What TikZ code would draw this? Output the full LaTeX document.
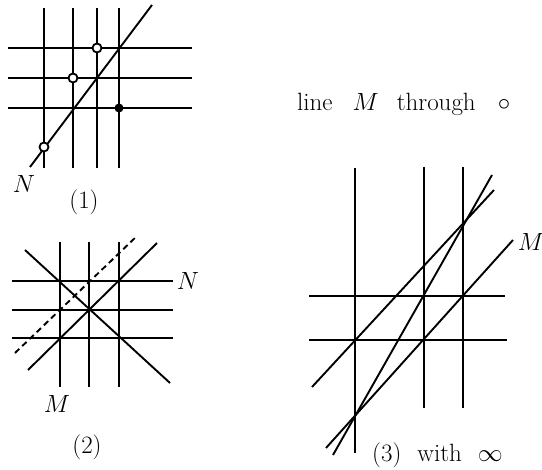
\documentclass[tikz,border=0pt]{standalone}
\begin{document}
\begin{tikzpicture}[x=1pt,y=-1pt,
  ln/.style={line width=1.9pt},
  dln/.style={line width=1.9pt,dash pattern=on 6pt off 4pt},
  opendot/.style={circle,draw,line width=1.8pt,fill=white,inner sep=0pt,minimum size=9pt},
  fulldot/.style={circle,fill,inner sep=0pt,minimum size=9pt},
  lbl/.style={font=\fontsize{25}{30}\selectfont,inner sep=0pt,anchor=base}]
\useasboundingbox (0,0) rectangle (542,470);
% ---------- figure (1)
\foreach \x [count=\i] in {44,73,97,119}{
  \coordinate (av\i t) at (\x,8); \coordinate (av\i b) at (\x,168);
  \draw[ln] (av\i t) -- (av\i b);}
\foreach \y [count=\i] in {48,78,108}{
  \coordinate (ah\i l) at (8,\y); \coordinate (ah\i r) at (192,\y);
  \draw[ln] (ah\i l) -- (ah\i r);}
\coordinate (aN1) at (30,167); \coordinate (aN2) at (152,5);
\draw[ln] (aN1) -- (aN2);
\node[opendot] (c1) at (97,48) {};
\node[opendot] (c2) at (73,78) {};
\node[opendot] (c3) at (44,147) {};
\node[fulldot] (d1) at (119,108) {};
\node[lbl] (lN1) at (24,193) {$N$};
\node[lbl] (l1) at (84,209) {(1)};
% ---------- figure (2)
\foreach \x [count=\i] in {60,89,119}{
  \coordinate (bv\i t) at (\x,242); \coordinate (bv\i b) at (\x,387);
  \draw[ln] (bv\i t) -- (bv\i b);}
\foreach \y [count=\i] in {281,310,338}{
  \coordinate (bh\i l) at (12,\y); \coordinate (bh\i r) at (173,\y);
  \draw[ln] (bh\i l) -- (bh\i r);}
\coordinate (bM1) at (28,370); \coordinate (bM2) at (157,243);
\draw[ln] (bM1) -- (bM2);
\coordinate (bA1) at (25,250); \coordinate (bA2) at (170,383);
\draw[ln] (bA1) -- (bA2);
\coordinate (bD1) at (15,353); \coordinate (bD2) at (137,236);
\draw[dln] (bD1) -- (bD2);
\node[lbl] (lN2) at (188,290) {$N$};
\node[lbl] (lM2) at (57,413) {$M$};
\node[lbl] (l2) at (87,454) {(2)};
% ---------- figure (3)
\coordinate (cv1t) at (355,168); \coordinate (cv1b) at (355,453);
\coordinate (cv2t) at (424,167); \coordinate (cv2b) at (424,408);
\coordinate (cv3t) at (463,167); \coordinate (cv3b) at (463,408);
\draw[ln] (cv1t) -- (cv1b);
\draw[ln] (cv2t) -- (cv2b);
\draw[ln] (cv3t) -- (cv3b);
\coordinate (ch1l) at (309,296); \coordinate (ch1r) at (505,296);
\coordinate (ch2l) at (309,340); \coordinate (ch2r) at (507,340);
\draw[ln] (ch1l) -- (ch1r);
\draw[ln] (ch2l) -- (ch2r);
\coordinate (cA1) at (312,387); \coordinate (cA2) at (494,190);
\draw[ln] (cA1) -- (cA2);
\coordinate (cM1) at (326,448); \coordinate (cM2) at (513,240);
\draw[ln] (cM1) -- (cM2);
\coordinate (cS1) at (333,455); \coordinate (cS2) at (492,175);
\draw[ln] (cS1) -- (cS2);
\node[lbl] (lM3) at (531,251) {$M$};
\node[lbl,anchor=base west] (l3) at (372,462) {(3)\hspace{16pt}with\hspace{16pt}$\infty$};
% ---------- caption
\node[lbl,anchor=base west] (cap) at (297,111) {line\hspace{20pt}$M$\hspace{18pt}through\hspace{22pt}$\circ$};
\end{tikzpicture}
\end{document}
